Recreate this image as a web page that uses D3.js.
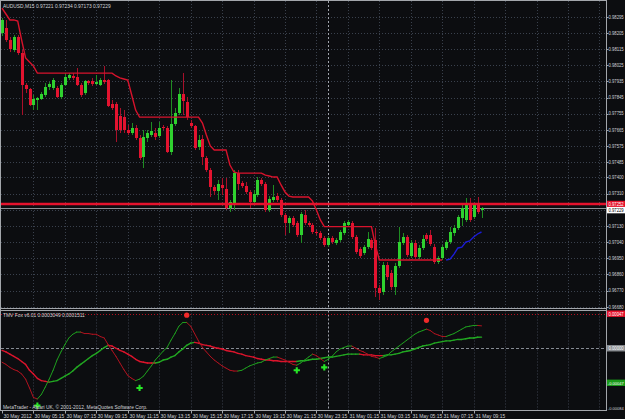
<!DOCTYPE html>
<html>
<head>
<meta charset="utf-8">
<script src="https://cdnjs.cloudflare.com/ajax/libs/d3/7.8.5/d3.min.js"></script>
<style>
  html, body { margin: 0; padding: 0; background: #0c0d10; }
  svg { display: block; font-family: "Liberation Sans", Arial, sans-serif; }
</style>
</head>
<body>
<div id="chart"></div>
<script>
// AUDUSD M15, one bar every 15 min from 30 May 03:15 to 31 May 09:45
var opens = [0.98204,0.98232,0.98165,0.98110,0.98182,0.98093,0.97915,0.97892,0.97803,0.97831,
  0.97837,0.97859,0.97903,0.97898,0.97898,0.97848,0.97915,0.97954,0.97965,0.97959,
  0.97915,0.97870,0.97937,0.97937,0.97920,0.97915,0.97942,0.97942,0.97809,0.97809,
  0.97742,0.97736,0.97664,0.97647,0.97675,0.97619,0.97514,0.97619,0.97636,0.97647,
  0.97630,0.97681,0.97675,0.97541,0.97697,0.97759,0.97864,0.97820,0.97703,0.97686,
  0.97569,0.97614,0.97508,0.97441,0.97346,0.97324,0.97358,0.97335,0.97229,0.97257,
  0.97424,0.97369,0.97352,0.97319,0.97263,0.97302,0.97385,0.97363,0.97218,0.97274,
  0.97296,0.97274,0.97190,0.97146,0.97174,0.97146,0.97079,0.97190,0.97146,0.97135,
  0.97096,0.97090,0.97062,0.97023,0.97062,0.97035,0.97051,0.97090,0.97135,0.97146,
  0.97068,0.97001,0.96979,0.97012,0.97051,0.97051,0.96784,0.96762,0.96912,0.96867,
  0.96789,0.96906,0.97035,0.97068,0.96962,0.97035,0.96957,0.97007,0.97079,0.97079,
  0.97012,0.96929,0.96951,0.97007,0.97040,0.97090,0.97118,0.97174,0.97163,0.97246,
  0.97179,0.97246,0.97221];
var highs = [0.98288,0.98277,0.98182,0.98193,0.98193,0.98110,0.97926,0.97898,0.97859,0.97848,
  0.97876,0.97926,0.97931,0.97954,0.97909,0.97926,0.97981,0.97981,0.97981,0.98009,
  0.97926,0.97942,0.97942,0.97954,0.97970,0.97954,0.98020,0.97948,0.97831,0.97820,
  0.97786,0.97775,0.97692,0.97703,0.97692,0.97636,0.97664,0.97664,0.97709,0.97675,
  0.97709,0.97692,0.97686,0.97942,0.97786,0.97898,0.97981,0.97848,0.97720,0.97692,
  0.97636,0.97636,0.97519,0.97452,0.97358,0.97385,0.97397,0.97397,0.97274,0.97441,
  0.97441,0.97380,0.97374,0.97330,0.97330,0.97402,0.97397,0.97374,0.97296,0.97358,
  0.97313,0.97285,0.97202,0.97185,0.97185,0.97157,0.97207,0.97218,0.97157,0.97146,
  0.97107,0.97101,0.97073,0.97073,0.97073,0.97062,0.97107,0.97157,0.97163,0.97157,
  0.97079,0.97012,0.97023,0.97096,0.97062,0.97118,0.96801,0.96929,0.96929,0.96884,
  0.96923,0.97124,0.97090,0.97079,0.97051,0.97051,0.97023,0.97079,0.97090,0.97107,
  0.97029,0.96962,0.97023,0.97051,0.97124,0.97135,0.97190,0.97246,0.97285,0.97285,
  0.97257,0.97291,0.97234];
var lows = [0.98187,0.98154,0.98098,0.98098,0.98082,0.97747,0.97870,0.97798,0.97775,0.97775,
  0.97831,0.97848,0.97887,0.97887,0.97842,0.97837,0.97909,0.97942,0.97942,0.97909,
  0.97848,0.97859,0.97915,0.97909,0.97915,0.97909,0.97920,0.97792,0.97775,0.97597,
  0.97647,0.97647,0.97636,0.97636,0.97608,0.97497,0.97452,0.97597,0.97625,0.97608,
  0.97619,0.97664,0.97536,0.97525,0.97686,0.97747,0.97747,0.97720,0.97675,0.97553,
  0.97553,0.97469,0.97430,0.97291,0.97302,0.97274,0.97302,0.97218,0.97207,0.97218,
  0.97330,0.97341,0.97307,0.97229,0.97252,0.97291,0.97352,0.97207,0.97207,0.97263,
  0.97263,0.97179,0.97079,0.97090,0.97124,0.97068,0.97035,0.97135,0.97124,0.97085,
  0.97079,0.97051,0.97012,0.97012,0.97029,0.97023,0.97040,0.97079,0.97124,0.97057,
  0.96973,0.96951,0.96968,0.97001,0.96996,0.96734,0.96717,0.96745,0.96828,0.96773,
  0.96745,0.96895,0.97023,0.96957,0.96951,0.96945,0.96945,0.96996,0.97046,0.97018,
  0.96918,0.96918,0.96940,0.96996,0.97029,0.97073,0.97107,0.97129,0.97151,0.97151,
  0.97168,0.97196,0.97173];
var closes = [0.98277,0.98165,0.98115,0.98182,0.98093,0.97915,0.97892,0.97803,0.97837,0.97842,
  0.97864,0.97903,0.97920,0.97942,0.97848,0.97915,0.97959,0.97970,0.97954,0.97915,
  0.97859,0.97937,0.97926,0.97920,0.97931,0.97942,0.97931,0.97798,0.97786,0.97664,
  0.97664,0.97664,0.97647,0.97675,0.97619,0.97508,0.97625,0.97647,0.97658,0.97625,
  0.97675,0.97675,0.97541,0.97697,0.97759,0.97864,0.97825,0.97736,0.97686,0.97564,
  0.97608,0.97514,0.97441,0.97346,0.97324,0.97363,0.97341,0.97229,0.97263,0.97424,
  0.97363,0.97352,0.97319,0.97263,0.97307,0.97385,0.97363,0.97218,0.97280,0.97291,
  0.97274,0.97190,0.97146,0.97174,0.97135,0.97079,0.97196,0.97146,0.97135,0.97096,
  0.97090,0.97062,0.97023,0.97062,0.97040,0.97051,0.97096,0.97146,0.97151,0.97068,
  0.96984,0.96962,0.97012,0.97057,0.97007,0.96784,0.96756,0.96912,0.96845,0.96789,
  0.96906,0.97040,0.97068,0.96968,0.97035,0.96957,0.97007,0.97057,0.97057,0.97029,
  0.96929,0.96951,0.97012,0.97040,0.97096,0.97118,0.97179,0.97229,0.97246,0.97163,
  0.97246,0.97207,0.97229];

// trailing stops: red above price for bars 0..112, blue below for bars 113..122
var upperStop = [0.98343,0.98310,0.98277,0.98277,0.98271,0.98165,0.98065,0.98043,0.98020,0.97981,
  0.97981,0.97981,0.97981,0.97981,0.97981,0.97981,0.97981,0.97981,0.97981,0.97981,
  0.97981,0.97981,0.97981,0.97981,0.97981,0.97981,0.97981,0.97981,0.97981,0.97965,
  0.97954,0.97948,0.97942,0.97859,0.97775,0.97736,0.97736,0.97736,0.97736,0.97736,
  0.97736,0.97736,0.97736,0.97736,0.97736,0.97736,0.97736,0.97736,0.97736,0.97736,
  0.97736,0.97703,0.97636,0.97575,0.97553,0.97553,0.97553,0.97553,0.97469,0.97430,
  0.97424,0.97424,0.97424,0.97424,0.97424,0.97424,0.97424,0.97413,0.97408,0.97402,
  0.97402,0.97358,0.97319,0.97296,0.97291,0.97291,0.97291,0.97291,0.97291,0.97268,
  0.97218,0.97163,0.97126,0.97126,0.97126,0.97126,0.97126,0.97126,0.97126,0.97126,
  0.97126,0.97126,0.97126,0.97126,0.97126,0.97023,0.96940,0.96940,0.96940,0.96940,
  0.96940,0.96940,0.96940,0.96940,0.96940,0.96940,0.96940,0.96940,0.96940,0.96940,
  0.96940,0.96940,0.96940];
var lowerStopStart = 113;
var lowerStop = [0.96940,0.96945,0.96973,0.97007,0.97012,0.97040,0.97046,0.97068,0.97085,0.97096];

// TMV Fox v6.01, values in units of 0.00001
var fastLine = [-19,-22,-26,-29,-31,-35,-42,-54,-67,-69,
  -63,-53,-42,-30,-16,-5,5,14,19,22,
  22,20,20,19,19,16,14,5,-3,-11,
  -20,-29,-37,-41,-44,-42,-38,-31,-24,-16,
  -10,-4,1,11,20,30,35,35,30,20,
  10,1,-5,-11,-16,-20,-24,-27,-30,-31,
  -31,-30,-27,-24,-22,-20,-19,-16,-14,-12,
  -12,-14,-16,-19,-22,-23,-20,-16,-12,-8,
  -10,-14,-18,-15,-11,-5,-1,1,3,3,
  0,-3,-5,-8,-11,-12,-14,-12,-10,-5,
  -1,3,7,11,15,19,22,24,26,24,
  20,18,16,16,18,20,23,26,29,30,
  31,31,30.49];
var slowLine = [-3,-5,-8,-11,-14,-18,-22,-30,-35,-41,
  -44,-45,-46,-45,-44,-41,-38,-35,-31,-26,
  -22,-18,-14,-10,-7,-3,1,4,3,0,
  -3,-5,-8,-11,-15,-18,-19,-20,-20,-20,
  -19,-16,-15,-12,-10,-5,-1,4,7,8,
  7,5,4,3,1,0,-1,-3,-4,-5,
  -7,-8,-10,-11,-12,-14,-15,-16,-16,-17,
  -17,-18,-18,-18,-18,-18,-17,-17,-16,-15,
  -15,-14,-13,-12,-12,-11,-10,-9,-8,-8,
  -8,-8,-9,-9,-9,-10,-10,-10,-9,-9,
  -8,-7,-5,-4,-3,-1,1,3,4,5,
  7,8,9,10,10,11,12,12,13,14,
  14,15,15.11];
var buyBars = [9, 35, 75, 82];
var buyVals = [-78, -54, -30, -26];
var sellBars = [47, 108];
var sellVals = [45, 38];
var levelVal = 47;

var priceTicks = [0.98295,0.98205,0.98115,0.98025,0.97935,0.97845,0.97755,0.97665,0.97575,0.97485,
  0.97400,0.97310,0.97220,0.97130,0.97040,0.96950,0.96860,0.96770,0.96680];
var timeBars = [0,8,16,24,32,40,48,56,64,72,80,88,96,104,112,120];
var timeLabels = ["30 May 2012","30 May 05:15","30 May 07:15","30 May 09:15","30 May 11:15",
  "30 May 13:15","30 May 15:15","30 May 17:15","30 May 19:15","30 May 21:15","30 May 23:15",
  "31 May 01:15","31 May 03:15","31 May 05:15","31 May 07:15","31 May 09:15"];
var daySeparatorBar = 83;
var hLinePrice = 0.97252;
var bidPrice = 0.97229;

var width = 625, height = 419;
var right = 606.5, mainBottom = 308.5, indTop = 310.5, indBottom = 410.5;

var svg = d3.select("#chart").append("svg")
    .attr("width", width)
    .attr("height", height);

svg.append("rect").attr("width", width).attr("height", height).attr("fill", "#0c0d10");

var x = d3.scaleLinear().domain([0, 122]).range([2, 481.5]);
var y = d3.scaleLinear().domain([0.96680, 0.98295]).range([306.7, 16.7]);
var yi = d3.scaleLinear().domain([-84, 50]).range([410, 311.5]);

var px = function (i) { return Math.round(x(i)); };

// grid
var gridBars = d3.range(8, 160, 8).filter(function (b) { return x(b) < right - 2; });
var grid = svg.append("g").attr("stroke", "#3a414d").attr("stroke-dasharray", "1,2");
grid.selectAll(".vg").data(gridBars).enter().append("line")
    .attr("x1", function (d) { return px(d) + 0.5; })
    .attr("x2", function (d) { return px(d) + 0.5; })
    .attr("y1", 1).attr("y2", mainBottom);
grid.selectAll(".vg2").data(gridBars).enter().append("line")
    .attr("x1", function (d) { return px(d) + 0.5; })
    .attr("x2", function (d) { return px(d) + 0.5; })
    .attr("y1", indTop).attr("y2", indBottom);
grid.selectAll(".hg").data(priceTicks).enter().append("line")
    .attr("x1", 1).attr("x2", right)
    .attr("y1", function (d) { return Math.round(y(d)) + 0.5; })
    .attr("y2", function (d) { return Math.round(y(d)) + 0.5; });

// day separator
[[1, mainBottom], [indTop, indBottom]].forEach(function (r) {
    svg.append("line")
        .attr("x1", px(daySeparatorBar) + 0.5).attr("x2", px(daySeparatorBar) + 0.5)
        .attr("y1", r[0]).attr("y2", r[1])
        .attr("stroke", "#a0a4ac").attr("stroke-dasharray", "2,2");
});

// indicator levels
svg.append("line").attr("x1", 1).attr("x2", right)
    .attr("y1", Math.round(yi(levelVal)) + 0.5).attr("y2", Math.round(yi(levelVal)) + 0.5)
    .attr("stroke", "#b3101f").attr("stroke-dasharray", "1,2");
svg.append("line").attr("x1", 1).attr("x2", right)
    .attr("y1", Math.round(yi(0)) + 0.5).attr("y2", Math.round(yi(0)) + 0.5)
    .attr("stroke", "#858a93").attr("stroke-dasharray", "3,2");

// bid line
svg.append("line").attr("x1", 1).attr("x2", right)
    .attr("y1", Math.round(y(bidPrice)) + 0.5).attr("y2", Math.round(y(bidPrice)) + 0.5)
    .attr("stroke", "#8e9096");

// candles
var bars = d3.range(opens.length).map(function (i) {
    return { i: i, o: opens[i], h: highs[i], l: lows[i], c: closes[i] };
});
var cg = svg.append("g").attr("shape-rendering", "crispEdges");
cg.selectAll(".wick").data(bars).enter().append("line")
    .attr("x1", function (d) { return px(d.i) + 0.5; })
    .attr("x2", function (d) { return px(d.i) + 0.5; })
    .attr("y1", function (d) { return y(d.h); })
    .attr("y2", function (d) { return y(d.l); })
    .attr("stroke", function (d) { return d.c >= d.o ? "#1f8c22" : "#a8102a"; });
cg.selectAll(".body").data(bars).enter().append("rect")
    .attr("x", function (d) { return px(d.i) - 1; })
    .attr("width", 3)
    .attr("y", function (d) { return Math.min(y(d.o), y(d.c)); })
    .attr("height", function (d) { return Math.max(1, Math.abs(y(d.o) - y(d.c))); })
    .attr("fill", function (d) { return d.c >= d.o ? "#2fd12f" : "#e3132f"; });

// trailing stops
var stopLine = d3.line()
    .x(function (d) { return x(d[0]); })
    .y(function (d) { return y(d[1]); });
svg.append("path")
    .datum(upperStop.map(function (v, i) { return [i, v]; }))
    .attr("fill", "none").attr("stroke", "#d8132c").attr("stroke-width", 1.4)
    .attr("d", stopLine);
svg.append("path")
    .datum(lowerStop.map(function (v, i) { return [i + lowerStopStart, v]; }))
    .attr("fill", "none").attr("stroke", "#1b1bd6").attr("stroke-width", 1.4)
    .attr("d", stopLine);

// horizontal line object
svg.append("line").attr("x1", 1).attr("x2", right)
    .attr("y1", y(hLinePrice)).attr("y2", y(hLinePrice))
    .attr("stroke", "#e5122c").attr("stroke-width", 2.6);

// indicator lines coloured by direction
function drawOsc(vals, width, up, down) {
    var g = svg.append("g").attr("stroke-width", width).attr("stroke-linecap", "round");
    var col = down;
    for (var i = 1; i < vals.length; i++) {
        if (vals[i] > vals[i - 1]) col = up;
        else if (vals[i] < vals[i - 1]) col = down;
        g.append("line")
            .attr("x1", x(i - 1)).attr("y1", yi(vals[i - 1]))
            .attr("x2", x(i)).attr("y2", yi(vals[i]))
            .attr("stroke", col);
    }
}
drawOsc(slowLine, 1.4, "#22a822", "#dc142c");
drawOsc(fastLine, 1, "#1e9e1e", "#b0121f");

// signal markers
svg.selectAll(".buy").data(buyBars).enter().append("path")
    .attr("d", d3.symbol(d3.symbolCross).size(22))
    .attr("transform", function (d, k) { return "translate(" + x(d) + "," + yi(buyVals[k]) + ")"; })
    .attr("fill", "#27e627");
svg.selectAll(".sell").data(sellBars).enter().append("circle")
    .attr("cx", function (d) { return x(d); })
    .attr("cy", function (d, k) { return yi(sellVals[k]); })
    .attr("r", 2.6)
    .attr("fill", "#f02a2a");

// frame
var frame = svg.append("g").attr("stroke", "#a3a6ab").attr("fill", "none").attr("shape-rendering", "crispEdges");
frame.append("rect").attr("x", 0.5).attr("y", 0.5).attr("width", right - 0.5).attr("height", indBottom - 0.5);
frame.append("line").attr("x1", 0).attr("x2", right).attr("y1", mainBottom).attr("y2", mainBottom);
frame.append("line").attr("x1", 0).attr("x2", right).attr("y1", indTop).attr("y2", indTop);

var fs = "4.9px";
var fsNeg = "4.2px";
var textCol = "#d2d4d8";
var labelX = 608.5, labelW = 15.2;

// price axis
var pa = svg.append("g").attr("font-size", fs).attr("fill", textCol);
pa.selectAll("text").data(priceTicks).enter().append("text")
    .attr("x", labelX)
    .attr("y", function (d) { return y(d) + 1.8; })
    .attr("textLength", labelW).attr("lengthAdjust", "spacingAndGlyphs")
    .text(function (d) { return d.toFixed(5); });
pa.selectAll("line").data(priceTicks).enter().append("line")
    .attr("x1", right).attr("x2", right + 2)
    .attr("y1", function (d) { return Math.round(y(d)) + 0.5; })
    .attr("y2", function (d) { return Math.round(y(d)) + 0.5; })
    .attr("stroke", "#a3a6ab");

// price boxes
function priceBox(yc, bg, fg, label, size) {
    svg.append("rect").attr("x", 607).attr("y", yc - 3.2).attr("width", 20).attr("height", 6.4).attr("fill", bg);
    svg.append("text").attr("x", size ? 607.8 : labelX).attr("y", yc + 1.8)
        .attr("font-size", size || fs).attr("fill", fg)
        .attr("textLength", labelW + (size ? 0.7 : 0)).attr("lengthAdjust", "spacingAndGlyphs").text(label);
}
priceBox(y(hLinePrice), "#e5122c", "#ffffff", hLinePrice.toFixed(5));
priceBox(y(bidPrice) + 2, "#ffffff", "#000000", bidPrice.toFixed(5));

// indicator axis
priceBox(yi(levelVal), "#e5122c", "#ffffff", "0.00047");
priceBox(yi(0), "#8a8d92", "#ffffff", "0.00000");
priceBox(yi(-levelVal), "#1a9a1a", "#ffffff", "-0.00047", fsNeg);
svg.append("text").attr("x", 607.8).attr("y", 409.5).attr("font-size", fsNeg).attr("fill", textCol)
    .attr("textLength", labelW + 0.7).attr("lengthAdjust", "spacingAndGlyphs").text("-0.00084");

// time axis
var ta = svg.append("g").attr("font-size", fs).attr("fill", textCol);
ta.selectAll("text").data(timeBars).enter().append("text")
    .attr("x", function (d) { return px(d) + 1.5; })
    .attr("y", 417.5)
    .text(function (d, k) { return timeLabels[k]; });
ta.selectAll("line").data(timeBars).enter().append("line")
    .attr("x1", function (d) { return px(d) + 0.5; })
    .attr("x2", function (d) { return px(d) + 0.5; })
    .attr("y1", indBottom).attr("y2", indBottom + 3)
    .attr("stroke", "#a3a6ab");

// captions
svg.append("text").attr("x", 3).attr("y", 8).attr("font-size", fs).attr("fill", textCol)
    .text("AUDUSD,M15  0.97221 0.97234 0.97173 0.97229");
svg.append("text").attr("x", 3).attr("y", 317).attr("font-size", fs).attr("fill", textCol)
    .text("TMV Fox v6.01 0.0003049 0.0001511");
svg.append("text").attr("x", 3).attr("y", 409).attr("font-size", fs).attr("fill", textCol)
    .text("MetaTrader - Alpari UK, \u00a9 2001-2012, MetaQuotes Software Corp.");
svg.selectAll(".buy").raise();
</script>
</body>
</html>
